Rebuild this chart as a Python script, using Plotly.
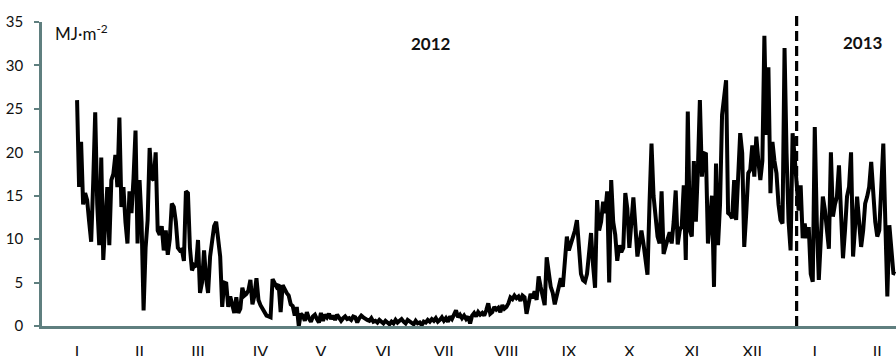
import pandas as pd
import plotly.graph_objects as go

# Daily global radiation, MJ·m-2, one list per month (Jan 2012 .. early Feb 2013)
jan_2012 = [26, 16, 21.2, 14, 15.3, 14.5, 12, 9.7, 16.5, 24.6, 14, 9.3, 19.4, 7.6, 12, 16,
            9.3, 16.8, 17.5, 19.7, 16, 24, 13.7, 16, 12, 9.5, 15.5, 13, 17, 22.5, 9.5]
feb_2012 = [16.8, 12, 1.8, 9, 12.2, 20.5, 17, 16.8, 20, 11, 10.5, 11.5, 8.7, 11, 8.2, 10,
            14.1, 13.7, 12, 9, 8.7, 8.8, 7.5, 15.5, 15.3, 9, 6.4, 7, 6.8]
mar_2012 = [9.9, 3.8, 5, 8.7, 5.5, 3.8, 8, 10, 11.5, 12, 10, 8, 2.2, 5, 4.9, 2.2, 3.4, 2.5,
            1.5, 3.3, 1.5, 2, 4.4, 3.5, 3.7, 4.1, 5.3, 2.5, 3.5, 5.5, 3]
apr_2012 = [2.4, 2, 1.5, 1.2, 1.1, 1, 5.4, 4.9, 4.5, 4.8, 1.6, 4.7, 4.2, 3.8, 3.5, 2.5, 2.3,
            1.2, 2.2, 0, 1.4, 1.2, 0.6, 1.6, 0.9, 0.5, 1.1, 1.3, 0.8, 0.4]
may_2012 = [1.5, 0.6, 1.3, 1.0, 1.4, 0.8, 1.2, 0.7, 1.3, 1.0, 0.6, 0.9, 1.1, 0.8, 0.9, 0.7,
            1.1, 1.0, 0.4, 0.9, 1.2, 1.0, 0.8, 0.7, 0.6, 0.9, 0.5, 0.6, 0.4, 0.7, 0.5]
jun_2012 = [0.3, 0.6, 0.4, 0.2, 0.5, 0.3, 0.7, 0.4, 0.6, 0.8, 0.5, 0.3, 0.7, 0.5, 0.4, 0.2,
            0.6, 0.3, 0.4, 0.1, 0.5, 0.4, 0.7, 0.5, 0.8, 0.6, 0.9, 0.5, 0.7, 1.0]
jul_2012 = [0.6, 0.9, 0.5, 1.1, 0.8, 1.3, 1.8, 1.0, 1.3, 0.9, 1.2, 0.8, 1.1, 0.3, 1.2, 1.5,
            1.1, 1.6, 1.3, 1.5, 1.2, 1.8, 2.6, 1.4, 1.6, 2.2, 1.9, 2.1, 1.6, 2.4, 2.0]
aug_2012 = [2.2, 2.6, 3.3, 3.1, 3.5, 3.2, 3.4, 2.9, 3.5, 3.3, 1.4, 2.8, 3.7, 3.2, 4.0, 3.0,
            5.7, 4.5, 3.6, 2.4, 7.9, 6.0, 4.5, 3.8, 2.5, 3.5, 4.3, 5.5, 4.5, 7.0, 10.3]
sep_2012 = [8.7, 9.5, 10, 11, 12.2, 9, 6, 5.3, 5.1, 6, 8, 10.7, 7, 4.4, 14.5, 11, 12, 14.3,
            13, 15.5, 5, 16.8, 12, 10.5, 7.5, 9.3, 8.5, 9, 15.3, 13.5]
oct_2012 = [9, 12, 14.8, 11.5, 8, 9.5, 11, 9.5, 7.5, 5.9, 14, 21, 15, 12, 10.3, 9.5, 15.5,
            8.3, 9, 10, 10.8, 9.5, 12, 15.6, 9.4, 11, 11.5, 16.2, 7.6, 24.7, 11]
nov_2012 = [10.3, 19, 12, 18, 26, 17.2, 19.9, 19.8, 9.5, 12, 15, 4.5, 18.7, 9.3, 14, 24.3,
            26.4, 28.3, 13, 12.8, 12.4, 16.8, 12.2, 17, 22.2, 19.9, 9.1, 13, 17.6, 18]
dec_2012 = [20.8, 17.2, 21.8, 19, 16.8, 19, 33.4, 22, 29.8, 15.3, 21.2, 19, 17.6, 14, 12.2,
            11.8, 32, 19.9, 12, 8.7, 22.2, 19.5, 16.9, 13.3, 16.2, 10.1, 11.8, 10.1, 11.4, 6, 5.1]
jan_2013 = [22.9, 12, 5.3, 10, 14.9, 13.4, 11, 8.9, 20, 12.6, 14, 14.9, 18.5, 12, 7.8, 11,
            14.9, 16, 20, 8, 11, 14.9, 12, 9.1, 11, 14.1, 14.9, 16, 18.9, 15, 12]
feb_2013 = [10.3, 11, 16, 21, 12, 3.4, 11.6, 8, 6.1, 6]

radiation = (jan_2012 + feb_2012 + mar_2012 + apr_2012 + may_2012 + jun_2012 + jul_2012
             + aug_2012 + sep_2012 + oct_2012 + nov_2012 + dec_2012 + jan_2013 + feb_2013)
dates = pd.date_range("2012-01-01", periods=len(radiation), freq="D")

month_starts = pd.date_range("2012-01-01", "2013-02-01", freq="MS")
month_labels = ["I", "II", "III", "IV", "V", "VI", "VII", "VIII", "IX", "X", "XI", "XII", "I", "II"]
year_split = "2012-12-23"

axis_color = "#5f7f7f"
text_color = "#111111"
font_family = "Lato, 'Open Sans', sans-serif"

fig = go.Figure()
fig.add_trace(go.Scatter(
    x=dates, y=radiation, mode="lines",
    line=dict(color="#000000", width=4, shape="linear"),
    hoverinfo="skip", showlegend=False,
))

x_start = pd.Timestamp("2012-01-01") - pd.Timedelta(hours=17.4 * 24)
x_end = pd.Timestamp("2012-01-01") + pd.Timedelta(hours=406.3 * 24)

fig.update_layout(
    width=896, height=356,
    margin=dict(l=42, r=0, t=22, b=30, autoexpand=False),
    paper_bgcolor="white", plot_bgcolor="white",
    font=dict(family=font_family, size=15, color=text_color),
    xaxis=dict(
        type="date", range=[x_start, x_end], automargin=False,
        tickmode="array", tickvals=month_starts, ticktext=month_labels,
        showgrid=False, zeroline=False,
        showline=True, linecolor=axis_color, linewidth=2.5,
        ticks="", ticklabelstandoff=9,
        tickfont=dict(size=16, color=text_color),
    ),
    yaxis=dict(
        range=[0, 35], tickmode="array", tickvals=[0, 5, 10, 15, 20, 25, 30, 35],
        automargin=False,
        showgrid=False, zeroline=False,
        showline=True, linecolor=axis_color, linewidth=2.5,
        ticks="outside", ticklen=5, tickwidth=2, tickcolor=axis_color,
        ticklabelstandoff=8,
        tickfont=dict(size=15, color=text_color),
    ),
    shapes=[dict(
        type="line", xref="x", yref="paper",
        x0=year_split, x1=year_split, y0=0, y1=1.027,
        line=dict(color="#000000", width=3.2, dash="10px,5px"),
    )],
    annotations=[
        dict(text="MJ·m<sup>-2</sup>", xref="paper", yref="paper", x=0.013, y=0.965,
             xanchor="left", yanchor="middle", showarrow=False,
             font=dict(size=17, color=text_color)),
        dict(text="<b>2012</b>", xref="paper", yref="paper", x=0.4555, y=0.928,
             xanchor="center", yanchor="middle", showarrow=False,
             font=dict(size=17, color=text_color)),
        dict(text="<b>2013</b>", xref="paper", yref="paper", x=0.961, y=0.931,
             xanchor="center", yanchor="middle", showarrow=False,
             font=dict(size=17, color=text_color)),
    ],
)

fig.write_html("out.html")
